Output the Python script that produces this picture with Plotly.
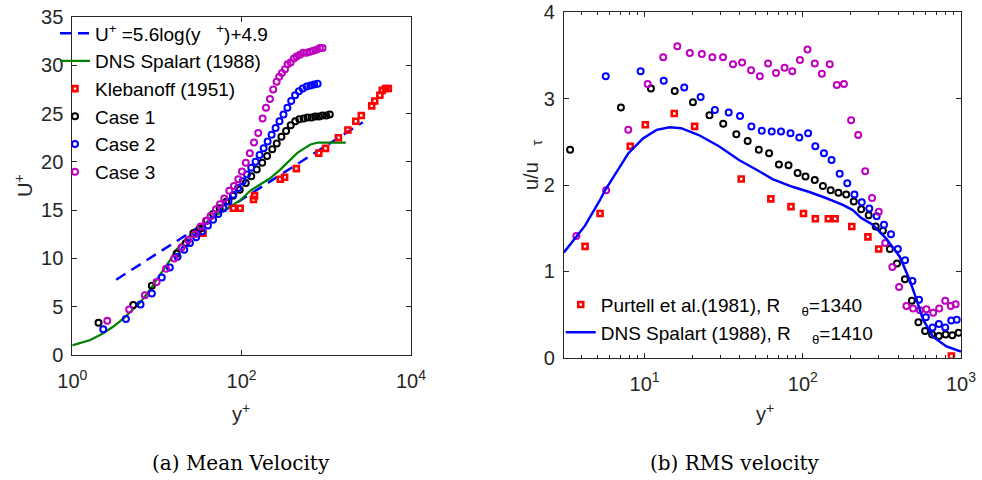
import plotly.graph_objects as go

# ---------------- Left panel (a) Mean velocity ----------------
loglaw_yp = [3.3, 2700]
loglaw_u = [7.8, 24.1]

dns_l_yp = [1, 1.63, 2.27, 3, 4.04, 5, 6.3, 8, 9.9, 12, 14.2, 17, 22, 30, 45, 65, 96, 126,
            160, 217, 286, 360, 452, 550, 650, 800, 1000, 1300, 1700]
dns_l_u = [1.0, 1.55, 2.2, 2.9, 3.8, 4.6, 5.4, 6.6, 7.75, 8.8, 9.8, 10.9, 12.0, 13.0, 14.2, 15.1,
           16.0, 17.0, 17.6, 18.3, 19.2, 20.1, 20.9, 21.4, 21.8, 22.0, 22.0, 22.0, 22.0]

kleb_yp = [35, 80, 96, 138, 142, 286, 322, 443, 815, 980, 1390, 1800, 2230, 2590, 3440, 3730,
           4290, 4580, 5030, 5400]
kleb_u = [12.6, 15.2, 15.2, 16.1, 16.5, 18.2, 18.4, 19.3, 20.9, 21.4, 22.5, 23.3, 24.2, 24.8,
          25.8, 26.3, 26.9, 27.4, 27.6, 27.6]

c1_l_yp = [2.04, 5.25, 8.7, 17.1, 22, 26.9, 32, 38.6, 46, 55, 66, 79, 95, 112, 130, 151, 175,
           200, 230, 260, 295, 335, 380, 430, 480, 540, 600, 670, 740, 820, 900, 1000, 1100]
c1_l_u = [3.34, 5.17, 7.17, 10.5, 11.6, 12.6, 13.1, 13.9, 14.6, 15.2, 15.9, 16.5, 17.1, 17.8,
          18.5, 19.2, 19.9, 20.6, 21.3, 21.9, 22.6, 23.2, 23.8, 24.2, 24.4, 24.5, 24.6, 24.6,
          24.7, 24.7, 24.8, 24.8, 24.9]

c2_l_yp = [2.32, 4.3, 6.4, 8.7, 11.4, 14.2, 17.5, 21, 24.5, 29, 34, 40, 46, 53, 61, 70, 80, 91,
           103, 116, 130, 146, 163, 182, 203, 226, 252, 280, 312, 347, 385, 428, 475, 527, 585,
           650, 720, 790]
c2_l_u = [2.66, 3.72, 5.24, 6.38, 8.03, 9.07, 10.17, 10.9, 11.6, 12.2, 12.8, 13.4, 14.0, 14.6,
          15.2, 15.9, 16.6, 17.3, 18.0, 18.7, 19.4, 20.0, 20.7, 21.4, 22.1, 22.8, 23.5, 24.2,
          24.9, 25.6, 26.3, 26.9, 27.3, 27.6, 27.8, 27.9, 28.0, 28.1]

c3_l_yp = [2.59, 4.7, 7.2, 9.9, 12.8, 16, 19.5, 23.4, 28, 32.8, 37.9, 43, 49.8, 55.5, 62.4, 71.5,
           81.2, 91.3, 101, 112, 125, 140, 157, 177, 194, 216, 236, 259, 278, 299, 325, 349,
           379, 414, 446, 488, 534, 585, 640, 700, 767, 840, 904]
c3_l_u = [3.55, 4.72, 6.2, 7.55, 8.93, 10.0, 11.14, 11.9, 12.5, 13.3, 13.9, 14.4, 15.1, 15.6,
          16.2, 17.0, 17.5, 18.2, 19.0, 19.9, 20.9, 22.0, 23.0, 24.5, 25.6, 26.5, 27.5, 28.3,
          28.8, 29.2, 29.6, 30.1, 30.3, 30.7, 30.9, 31.1, 31.3, 31.3, 31.4, 31.5, 31.6, 31.8, 31.8]

# ---------------- Right panel (b) RMS velocity ----------------
dns_r_yp = [3.09, 4.2, 5.23, 5.62, 7.9, 9.76, 11.9, 14.4, 17, 22, 29.5, 39.5, 53, 64.3, 86, 110,
            140, 179, 207, 234, 277, 337, 410, 474, 524, 576, 667, 810, 1000]
dns_r_u = [1.22, 1.53, 1.83, 1.94, 2.37, 2.54, 2.64, 2.67, 2.66, 2.58, 2.45, 2.29, 2.16, 2.07,
           1.98, 1.92, 1.85, 1.77, 1.71, 1.62, 1.54, 1.38, 1.17, 0.90, 0.67, 0.44, 0.24, 0.13, 0.07]

purt_yp = [4.2, 5.23, 8.11, 10.1, 15.4, 20.7, 40.8, 62.8, 84.2, 101, 120, 145, 160, 204, 258,
           302, 870]
purt_u = [1.29, 1.67, 2.45, 2.70, 2.83, 2.68, 2.07, 1.84, 1.75, 1.67, 1.61, 1.61, 1.61, 1.52,
          1.40, 1.26, 0.02]

c1_r_yp = [3.38, 7.08, 10.96, 15.5, 20.2, 25.7, 31.4, 38, 44.8, 52.7, 61.2, 70.6, 81.2, 92.7,
           104, 119, 134, 150, 168, 188, 210, 234, 261, 289, 321, 355, 394, 442, 489, 538, 593,
           657, 725, 800, 881, 967]
c1_r_u = [2.41, 2.90, 3.12, 3.09, 2.96, 2.81, 2.71, 2.59, 2.51, 2.41, 2.37, 2.24, 2.23, 2.14,
          2.10, 2.06, 1.99, 1.94, 1.91, 1.89, 1.81, 1.72, 1.65, 1.52, 1.47, 1.26, 1.09, 0.91,
          0.66, 0.41, 0.31, 0.27, 0.25, 0.27, 0.26, 0.29]

c2_r_yp = [5.68, 9.43, 13.2, 17.8, 22.6, 27.8, 34, 40.1, 47.3, 55, 63.6, 72.8, 83.6, 95, 108,
           120, 136, 152, 171, 191, 212, 236, 263, 293, 326, 361, 399, 443, 493, 543, 600, 661,
           725, 795, 868, 940]
c2_r_u = [3.26, 3.32, 3.21, 3.13, 3.02, 2.87, 2.84, 2.80, 2.68, 2.63, 2.62, 2.62, 2.60, 2.55,
          2.60, 2.45, 2.37, 2.29, 2.13, 2.02, 1.89, 1.80, 1.73, 1.64, 1.54, 1.43, 1.26, 1.13,
          0.89, 0.67, 0.47, 0.35, 0.39, 0.35, 0.43, 0.44]

c3_r_yp = [3.70, 5.71, 7.88, 10.45, 13.1, 16.1, 19.3, 23, 26.8, 31.3, 36.2, 41.3, 47.1, 53.5,
           60.3, 67.7, 76.7, 85.8, 95.9, 107, 119, 132, 148, 164, 182, 202, 224, 248, 274, 302,
           332, 368, 406, 452, 498, 550, 605, 667, 728, 795, 861, 925]
c3_r_u = [1.41, 1.94, 2.64, 3.17, 3.48, 3.61, 3.53, 3.52, 3.48, 3.48, 3.40, 3.42, 3.33, 3.26,
          3.41, 3.30, 3.36, 3.32, 3.45, 3.57, 3.41, 3.29, 3.40, 3.16, 3.17, 2.75, 2.58, 2.16,
          1.85, 1.69, 1.33, 1.05, 0.82, 0.60, 0.57, 0.55, 0.56, 0.52, 0.57, 0.66, 0.60, 0.62]

# ---------------- styles ----------------
BLUE = '#0000FF'
GREEN = '#008000'
RED = '#FF0000'
BLACK = '#000000'
MAG = '#BF00BF'
AX = '#262626'
FONT = 'Liberation Sans, Arial, Helvetica, sans-serif'
SERIF = 'DejaVu Serif, Liberation Serif, serif'

def circ(color):
    return dict(symbol='circle-open', size=6, color=color, line=dict(color=color, width=2))

sq = dict(symbol='square-open', size=5, color=RED, line=dict(color=RED, width=2.6))

fig = go.Figure()
nb = '\u00a0'
# left
fig.add_trace(go.Scatter(x=loglaw_yp, y=loglaw_u, mode='lines',
                         line=dict(color=BLUE, width=2.5, dash='11px,7px'),
                         name='U<sup>+</sup>' + nb + '=5.6log(y' + nb * 3 + '<sup>+</sup>)+4.9',
                         xaxis='x', yaxis='y', legend='legend'))
fig.add_trace(go.Scatter(x=dns_l_yp, y=dns_l_u, mode='lines', line=dict(color=GREEN, width=2.2),
                         name='DNS Spalart (1988)', xaxis='x', yaxis='y', legend='legend'))
fig.add_trace(go.Scatter(x=kleb_yp, y=kleb_u, mode='markers', marker=sq,
                         name='Klebanoff (1951)', xaxis='x', yaxis='y', legend='legend'))
fig.add_trace(go.Scatter(x=c1_l_yp, y=c1_l_u, mode='markers', marker=circ(BLACK),
                         name='Case 1', xaxis='x', yaxis='y', legend='legend'))
fig.add_trace(go.Scatter(x=c2_l_yp, y=c2_l_u, mode='markers', marker=circ(BLUE),
                         name='Case 2', xaxis='x', yaxis='y', legend='legend'))
fig.add_trace(go.Scatter(x=c3_l_yp, y=c3_l_u, mode='markers', marker=circ(MAG),
                         name='Case 3', xaxis='x', yaxis='y', legend='legend'))
# right
fig.add_trace(go.Scatter(x=c1_r_yp, y=c1_r_u, mode='markers', marker=circ(BLACK),
                         showlegend=False, xaxis='x2', yaxis='y2'))
fig.add_trace(go.Scatter(x=c2_r_yp, y=c2_r_u, mode='markers', marker=circ(BLUE),
                         showlegend=False, xaxis='x2', yaxis='y2'))
fig.add_trace(go.Scatter(x=c3_r_yp, y=c3_r_u, mode='markers', marker=circ(MAG),
                         showlegend=False, xaxis='x2', yaxis='y2'))
fig.add_trace(go.Scatter(x=purt_yp, y=purt_u, mode='markers', marker=sq,
                         name='Purtell et al.(1981), R' + nb * 4 + '<sub>θ</sub>=1340',
                         xaxis='x2', yaxis='y2', legend='legend2'))
fig.add_trace(go.Scatter(x=dns_r_yp, y=dns_r_u, mode='lines', line=dict(color=BLUE, width=2.5),
                         name='DNS Spalart (1988), R' + nb * 4 + '<sub>θ</sub>=1410',
                         xaxis='x2', yaxis='y2', legend='legend2'))

axcommon = dict(showline=True, mirror='allticks', linecolor=AX, linewidth=1, ticks='inside',
                ticklen=5, tickcolor=AX, showgrid=False, zeroline=False, automargin=False,
                tickfont=dict(family=FONT, size=20, color=AX))

minor_vals = [4, 5, 6, 7, 8, 9, 20, 30, 40, 50, 60, 70, 80, 90, 200, 300, 400, 500, 600, 700,
              800, 900]

def ann(text, x, y, size=20, family=FONT, angle=0, color=AX):
    return dict(text=text, x=x / 982, y=1 - y / 480, xref='paper', yref='paper',
                xanchor='center', yanchor='middle', showarrow=False, textangle=angle,
                font=dict(family=family, size=size, color=color))

fig.update_layout(
    width=982, height=480, margin=dict(l=0, r=0, t=0, b=0, autoexpand=False),
    paper_bgcolor='white', plot_bgcolor='white',
    xaxis=dict(axcommon, domain=[0.0736, 0.4185], type='log', range=[0, 4], anchor='y',
               tickvals=[1, 100, 10000],
               ticktext=['10<sup>0</sup>', '10<sup>2</sup>', '10<sup>4</sup>'],
               ticklabelstandoff=8),
    yaxis=dict(axcommon, domain=[0.2604, 0.9646], range=[0, 35], dtick=5, anchor='x',
               ticklabelstandoff=4),
    xaxis2=dict(axcommon, domain=[0.5743, 0.9786], type='log', range=[0.49, 3], anchor='y2',
                tickvals=[10, 100, 1000],
                ticktext=['10<sup>1</sup>', '10<sup>2</sup>', '10<sup>3</sup>'],
                minor=dict(tickvals=minor_vals, ticks='inside', ticklen=3, tickcolor=AX),
                ticklabelstandoff=8),
    yaxis2=dict(axcommon, domain=[0.2548, 0.974], range=[0, 4], dtick=1, anchor='x2',
                ticklabelstandoff=4),
    legend=dict(x=0.056, y=0.97, xanchor='left', yanchor='top', bgcolor='rgba(0,0,0,0)',
                font=dict(family=FONT, size=19, color='#000000'), tracegroupgap=0,
                itemwidth=30),
    legend2=dict(x=0.571, y=0.405, xanchor='left', yanchor='top', bgcolor='rgba(0,0,0,0)',
                 font=dict(family=FONT, size=19, color='#000000'), itemwidth=30),
    annotations=[
        ann('y<sup>+</sup>', 241, 412),
        ann('y<sup>+</sup>', 765, 412),
        ann('U<sup>+</sup>', 24, 186, angle=-90),
        ann('u/u' + nb * 3 + '<sub>τ</sub>', 532, 165, angle=-90),
        ann('(a) Mean Velocity', 241, 463, size=20, family=SERIF, color='#000000'),
        ann('(b) RMS velocity', 735, 463, size=20, family=SERIF, color='#000000'),
    ],
)

fig.write_html('out.html')
